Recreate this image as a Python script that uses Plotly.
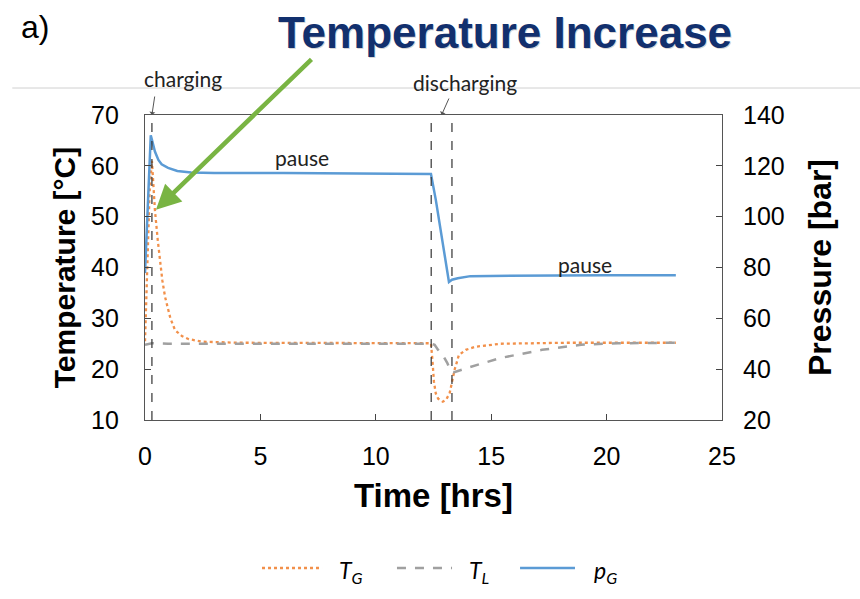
import plotly.graph_objects as go

# ---- data ----
t_TG = [0.0, 0.1, 0.2, 0.3, 0.43, 0.55, 0.65, 0.75, 0.87, 1.0, 1.1, 1.3, 1.6, 1.9, 2.5, 4.0, 8.0,
        12.39, 12.45, 12.52, 12.6, 12.7, 12.9, 13.05, 13.2, 13.27, 13.33, 13.42, 13.5, 13.6,
        13.9, 14.3, 15.4, 18.3, 23.0]
T_G = [25.5, 40.0, 55.0, 61.0, 51.3, 45.5, 41.5, 37.5, 34.2, 31.5, 30.0, 27.7, 26.5, 25.9, 25.4, 25.2, 25.1,
       25.1, 22.0, 17.5, 15.2, 14.2, 13.6, 14.0, 15.3, 16.8, 18.5, 20.0, 21.2, 22.8,
       23.8, 24.4, 25.0, 25.2, 25.2]

t_TL = [0.0, 0.3, 1.0, 6.0, 12.39, 12.55, 12.7, 12.9, 13.1, 13.25, 13.4, 14.0, 15.4, 17.2, 18.9, 20.5, 23.0]
T_L = [24.8, 25.1, 25.0, 25.0, 25.0, 24.8, 23.8, 22.8, 21.2, 19.5, 19.4, 20.3, 22.2, 23.8, 24.8, 25.1, 25.2]

t_p = [0.0, 0.08, 0.16, 0.25, 0.35, 0.43, 0.58, 0.72, 1.0, 1.4, 2.0, 3.0, 6.0, 9.0,
       12.39, 12.6, 12.83, 12.97, 13.17, 13.3, 13.55, 14.1, 16.0, 20.0, 23.0]
p_G = [77.8, 95.0, 113.0, 132.0, 128.5, 125.6, 122.3, 120.6, 119.2, 118.0, 117.4, 117.2, 117.2, 117.1,
       116.8, 106.6, 93.6, 85.7, 74.3, 75.2, 75.8, 76.6, 76.8, 77.0, 77.0]

phase_times = [0.3, 12.4, 13.3]

x_ticks = [0, 5, 10, 15, 20, 25]
T_ticks = [10, 20, 30, 40, 50, 60, 70]
p_ticks = [20, 40, 60, 80, 100, 120, 140]

series_names = ["<i>T<sub>G</sub></i>", "<i>T<sub>L</sub></i>", "<i>p<sub>G</sub></i>"]
series_colors = ["#F2904A", "#A0A0A0", "#5B9BD5"]
series_dash = ["dot", "dash", "solid"]

# ---- figure ----
fig = go.Figure()
fig.add_trace(go.Scatter(x=t_TG, y=T_G, name=series_names[0], mode="lines",
                         line=dict(color=series_colors[0], width=2.3, dash=series_dash[0])))
fig.add_trace(go.Scatter(x=t_TL, y=T_L, name=series_names[1], mode="lines",
                         line=dict(color=series_colors[1], width=2.5, dash=series_dash[1])))
fig.add_trace(go.Scatter(x=t_p, y=p_G, name=series_names[2], mode="lines", yaxis="y2",
                         line=dict(color=series_colors[2], width=2.5, dash=series_dash[2])))

SANS = "Liberation Sans, Arial, sans-serif"
axis_font = dict(family=SANS, size=25, color="black")
lab_font = dict(family="Lato, sans-serif", size=21, color="#222222")

shapes = []
for tp in phase_times:
    shapes.append(dict(type="line", xref="x", yref="paper", x0=tp, x1=tp, y0=0, y1=1,
                       line=dict(color="#333333", width=1.2, dash="dash")))
shapes.append(dict(type="line", xref="paper", yref="paper", x0=-0.23, x1=1.25, y0=1.0885, y1=1.0885,
                   line=dict(color="#D0D0D0", width=1)))

annotations = [
    dict(text="a)", xref="paper", yref="paper", x=-0.19, y=1.29, xanchor="center", yanchor="middle",
         showarrow=False, font=dict(family=SANS, size=32, color="black")),
    dict(text="<b>Temperature Increase</b>", xref="paper", yref="paper", x=0.6265, y=1.2675,
         xanchor="center", yanchor="middle",
         showarrow=False, font=dict(family=SANS, size=44, color="rgba(0,0,0,0.18)")),
    dict(text="<b>Temperature Increase</b>", xref="paper", yref="paper", x=0.624, y=1.272,
         xanchor="center", yanchor="middle",
         showarrow=False, font=dict(family=SANS, size=44, color="#12306E")),
    # green arrow
    dict(text="", xref="paper", yref="paper", x=0.019, y=0.689, ax=157, ay=-152,
         showarrow=True, arrowhead=2, arrowsize=1.1, arrowwidth=4.5, arrowcolor="#79B443"),
    # charging
    dict(text="charging", xref="paper", yref="paper", x=0.066, y=1.12, xanchor="center", yanchor="middle",
         showarrow=False, font=lab_font),
    dict(text="", xref="x", yref="paper", x=0.3, y=1.0, ax=3, ay=-20, showarrow=True,
         arrowhead=1, arrowsize=1, arrowwidth=1, arrowcolor="#555555"),
    # discharging
    dict(text="discharging", xref="paper", yref="paper", x=0.555, y=1.106, xanchor="center",
         yanchor="middle", showarrow=False, font=lab_font),
    dict(text="", xref="x", yref="paper", x=12.85, y=1.0, ax=8, ay=-18, showarrow=True,
         arrowhead=1, arrowsize=1, arrowwidth=1, arrowcolor="#555555"),
    # pauses
    dict(text="pause", xref="x", yref="y", x=6.8, y=61.7, showarrow=False, font=lab_font),
    dict(text="pause", xref="x", yref="y", x=19.06, y=40.5, showarrow=False, font=lab_font),
]

# legend drawn below the plot (samples + labels)
leg_y = -0.4852
leg_x0 = [0.2028, 0.4367, 0.65]
leg_x1 = [0.3068, 0.5321, 0.7452]
leg_tx = [0.3328, 0.558, 0.7747]
for i in range(3):
    shapes.append(dict(type="line", xref="paper", yref="paper", x0=leg_x0[i], x1=leg_x1[i],
                       y0=leg_y, y1=leg_y,
                       line=dict(color=series_colors[i], width=2.5, dash=series_dash[i])))
    annotations.append(dict(text=series_names[i], xref="paper", yref="paper", x=leg_tx[i], y=leg_y - 0.01,
                            xanchor="left", yanchor="middle", showarrow=False,
                            font=dict(family="Lato, sans-serif", size=23, color="black")))

fig.update_layout(
    width=860, height=599,
    margin=dict(l=145, r=138, t=115, b=179),
    paper_bgcolor="white", plot_bgcolor="white",
    showlegend=False,
    xaxis=dict(range=[0, 25], tickvals=x_ticks, ticks="inside", ticklen=6, tickcolor="#444",
               showline=True, linecolor="#555555", linewidth=1.2, mirror=True, showgrid=False,
               zeroline=False, tickfont=axis_font, ticklabelstandoff=14,
               title=dict(text="<b>Time [hrs]</b>", font=dict(family=SANS, size=33, color="black"),
                          standoff=14)),
    yaxis=dict(range=[10, 70], tickvals=T_ticks, ticks="inside", ticklen=6, tickcolor="#444",
               showline=True, linecolor="#555555", linewidth=1.2, mirror=True, showgrid=False,
               zeroline=False, tickfont=axis_font, ticklabelstandoff=20,
               title=dict(text="<b>Temperature [°C]</b>", font=dict(family=SANS, size=30, color="black"),
                          standoff=6)),
    yaxis2=dict(range=[20, 140], tickvals=p_ticks, ticks="inside", ticklen=6, tickcolor="#444",
                overlaying="y", side="right", showline=False, showgrid=False, zeroline=False,
                tickfont=axis_font, ticklabelstandoff=20,
                title=dict(text="<b>Pressure [bar]</b>", font=dict(family=SANS, size=32, color="black"),
                           standoff=24)),
    shapes=shapes,
    annotations=annotations,
)

fig.write_html("out.html")
